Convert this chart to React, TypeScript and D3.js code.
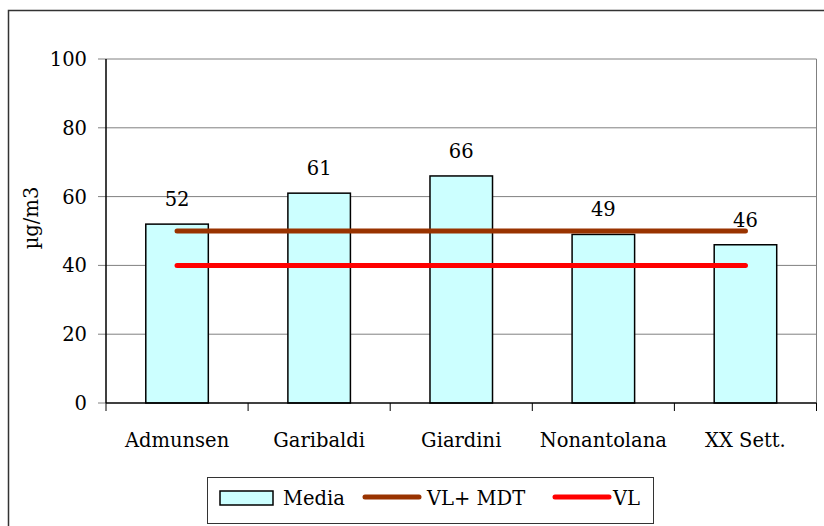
import React from 'react';
import * as d3 from 'd3';

const categories = ['Admunsen', 'Garibaldi', 'Giardini', 'Nonantolana', 'XX Sett.'];
const media = [52, 61, 66, 49, 46];
const vlMdt = [50, 50, 50, 50, 50];
const vl = [40, 40, 40, 40, 40];
const yTicks = [0, 20, 40, 60, 80, 100];

const W = 824;
const H = 526;
const left = 106;
const right = 816.5;
const top = 59;
const bottom = 403;
const font = "'DejaVu Serif', serif";

export default function App() {
  const x = d3.scaleBand<string>()
    .domain(categories)
    .range([left, right])
    .paddingInner(0.56)
    .paddingOuter(0.28);
  const y = d3.scaleLinear().domain([0, 100]).range([bottom, top]);
  const step = x.step();
  const center = (c: string) => (x(c) as number) + x.bandwidth() / 2;

  const line = d3.line<number>()
    .x((_, i) => center(categories[i]))
    .y(d => y(d));

  const boundaries = d3.range(categories.length + 1).map(i => left + i * step);
  const ts = { fontFamily: font, fontSize: '19.5px' };

  return (
    <svg width={W} height={H} style={{ position: 'absolute', left: 0, top: 0, background: '#fff', fontFamily: font }}>
      <rect x={8.5} y={10.5} width={840} height={540} fill="#fff" stroke="#333" strokeWidth={1.5} />

      {/* gridlines + y ticks */}
      {yTicks.map(t => (
        <g key={t}>
          {t > 0 && <line x1={left} x2={right} y1={y(t)} y2={y(t)} stroke="#808080" strokeWidth={1} />}
          <line x1={98} x2={left} y1={y(t)} y2={y(t)} stroke="#808080" strokeWidth={1} />
          <text x={87} y={y(t)} dy="0.36em" textAnchor="end" style={ts}>{t}</text>
        </g>
      ))}
      <line x1={right} x2={right} y1={top} y2={bottom} stroke="#808080" strokeWidth={1} />

      {/* bars */}
      {categories.map((c, i) => (
        <g key={c}>
          <rect x={x(c)} y={y(media[i])} width={x.bandwidth()} height={bottom - y(media[i])}
            fill="#CCFFFF" stroke="#000" strokeWidth={1.5} />
          <text x={center(c)} y={y(media[i]) - 18} textAnchor="middle" style={ts}>{media[i]}</text>
          <text x={center(c)} y={447} textAnchor="middle" style={ts}>{c}</text>
        </g>
      ))}

      {/* axes */}
      <line x1={left} x2={left} y1={top} y2={bottom} stroke="#000" strokeWidth={1.5} />
      <line x1={left} x2={right} y1={bottom} y2={bottom} stroke="#000" strokeWidth={1.5} />
      {boundaries.map((b, i) => (
        <line key={i} x1={b} x2={b} y1={bottom} y2={bottom + 8} stroke="#000" strokeWidth={1} />
      ))}

      {/* reference lines */}
      <path d={line(vlMdt) || ''} fill="none" stroke="#993300" strokeWidth={5} strokeLinecap="round" />
      <path d={line(vl) || ''} fill="none" stroke="#FF0000" strokeWidth={5} strokeLinecap="round" />

      <text transform={`translate(38,218) rotate(-90)`} textAnchor="middle" style={ts}>µg/m3</text>

      {/* legend */}
      <g>
        <rect x={207.5} y={477.5} width={446} height={46} fill="#fff" stroke="#333" strokeWidth={1} />
        <rect x={220} y={491} width={53} height={14} fill="#CCFFFF" stroke="#000" strokeWidth={1.5} />
        <text x={283} y={505} style={ts}>Media</text>
        <line x1={365} x2={419} y1={497} y2={497} stroke="#993300" strokeWidth={5} strokeLinecap="round" />
        <text x={427} y={505} style={ts}>VL+ MDT</text>
        <line x1={555} x2={609} y1={497} y2={497} stroke="#FF0000" strokeWidth={5} strokeLinecap="round" />
        <text x={613} y={505} style={ts}>VL</text>
      </g>
    </svg>
  );
}
